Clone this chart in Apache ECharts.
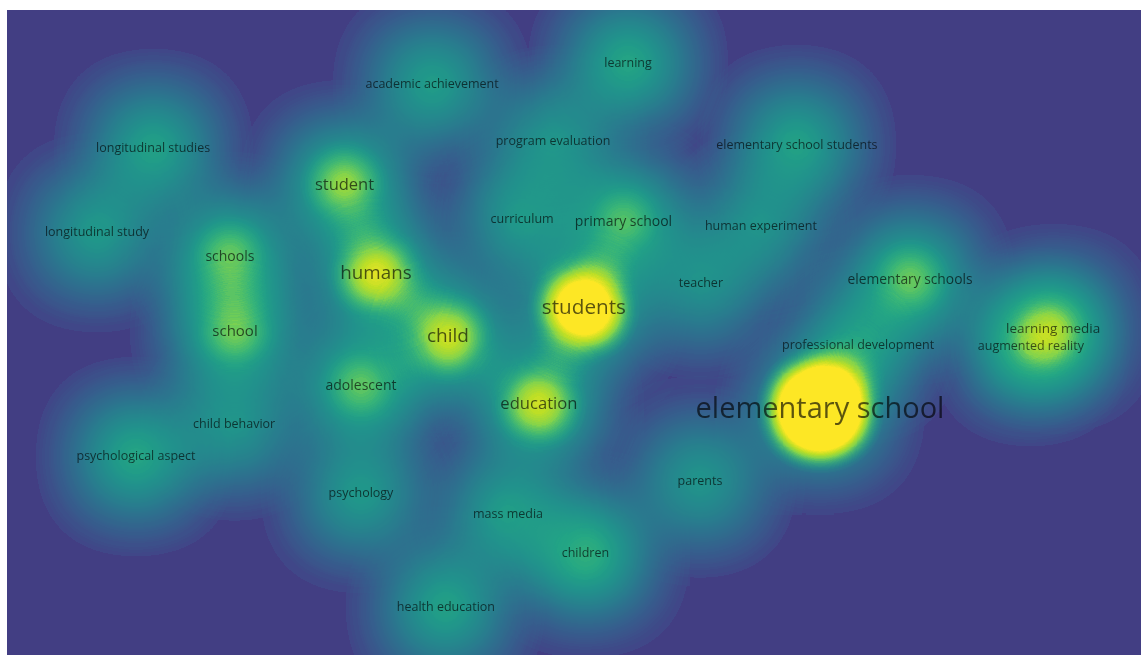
<!DOCTYPE html>
<html lang="en">
<head>
    <meta charset="UTF-8">
    <title>keyword density</title>
    <script type="text/javascript" src="https://cdn.jsdelivr.net/npm/echarts@6/dist/echarts.min.js"></script>
    <style>
        html, body {margin: 0; padding: 0; background: #fff;}
    </style>
</head>
<body>
<div id="container" style="width: 1141px; height: 655px"></div>
<script type="text/javascript">

    // keywords, map coordinates (x right, y up), density weight, label size
    var keywords = ['elementary school', 'students', 'humans', 'child', 'education', 'student',
        'schools', 'school', 'learning media', 'augmented reality', 'primary school', 'elementary schools',
        'professional development', 'adolescent', 'curriculum', 'human experiment', 'teacher',
        'program evaluation', 'elementary school students', 'learning', 'academic achievement',
        'longitudinal studies', 'longitudinal study', 'child behavior', 'psychological aspect',
        'psychology', 'mass media', 'children', 'health education', 'parents'];
    var posX = [0.820, 0.033, -0.660, -0.420, -0.117, -0.765,
        -1.147, -1.130, 1.597, 1.523, 0.165, 1.120,
        0.947, -0.710, -0.173, 0.623, 0.423,
        -0.070, 0.743, 0.180, -0.473,
        -1.403, -1.590, -1.133, -1.460,
        -0.710, -0.220, 0.038, -0.427, 0.420];
    var posY = [-0.258, 0.082, 0.195, -0.015, -0.238, 0.492,
        0.252, 0.002, 0.012, -0.048, 0.368, 0.175,
        -0.042, -0.178, 0.378, 0.355, 0.165,
        0.638, 0.625, 0.898, 0.828,
        0.612, 0.332, -0.308, -0.412,
        -0.538, -0.605, -0.738, -0.915, -0.495];
    var weight = [1.00, 0.62, 0.40, 0.38, 0.38, 0.32,
        0.28, 0.29, 0.27, 0.17, 0.26, 0.28,
        0.15, 0.27, 0.14, 0.12, 0.12,
        0.13, 0.16, 0.17, 0.15,
        0.16, 0.14, 0.13, 0.17,
        0.14, 0.15, 0.20, 0.16, 0.13];
    var labelSize = [29, 20.7, 18.8, 19, 16.6, 16.5,
        14, 15, 13.5, 12.5, 14, 13.8,
        12.5, 14, 12.5, 12.5, 12.5,
        12.5, 12.5, 12.5, 12.5,
        12.5, 12.5, 12.5, 12.5,
        12.5, 12.5, 12.5, 12.5, 12.5];

    // map extent
    var extentX = [-1.89, 1.89];
    var extentY = [-1.075, 1.075];

    // viridis colour scale
    var viridis = ['#440154', '#482475', '#414487', '#355f8d', '#2a788e', '#21918c',
        '#22a884', '#44bf70', '#7ad151', '#bddf26', '#fde725'];
    var LOW = 0.18, MID = 0.58, CORE_LOW = 0.55;
    // halo layer: wide kernel, opaque, purple to teal
    var HALO_CAP = 0.2, HALO_TOP = 0.38, GAMMA = 0.57;
    // core layer: narrow kernel, green to yellow, opacity grows with density
    var CORE_FROM = 0.04, CORE_TOP = 0.17, CORE_FADE = 0.08;

    function hexRgb(h) {
        return [parseInt(h.substr(1, 2), 16), parseInt(h.substr(3, 2), 16), parseInt(h.substr(5, 2), 16)];
    }
    function viridisAt(t) {
        var s = t * 10;
        var i = Math.min(9, Math.floor(s));
        var f = s - i;
        var a = hexRgb(viridis[i]), b = hexRgb(viridis[i + 1]);
        return [0, 1, 2].map(function (k) { return Math.round(a[k] + (b[k] - a[k]) * f); });
    }
    function rgba(c, op) {
        return 'rgba(' + c.join(',') + ',' + op + ')';
    }
    var haloLevels = [], coreLevels = [];
    for (var i = 0; i < 256; i++) {
        var a = i / 255;
        var p = Math.min(1, Math.pow(a / HALO_TOP, GAMMA));
        haloLevels.push(rgba(viridisAt(LOW + (MID - LOW) * p), 1));
        if (a < CORE_FROM) {
            coreLevels.push(rgba(viridisAt(CORE_LOW), 0));
        } else {
            var t = Math.min(1, (a - CORE_FROM) / (CORE_TOP - CORE_FROM));
            coreLevels.push(rgba(viridisAt(CORE_LOW + (1 - CORE_LOW) * t), 1));
        }
    }
    var bgColor = rgba(viridisAt(LOW), 1);

    echarts.registerMap('vosmap', {
        type: 'FeatureCollection',
        features: [{
            type: 'Feature',
            properties: {name: 'map'},
            geometry: {
                type: 'Polygon',
                coordinates: [[[extentX[0], extentY[0]], [extentX[1], extentY[0]], [extentX[1], extentY[1]],
                    [extentX[0], extentY[1]], [extentX[0], extentY[0]]]]
            }
        }]
    });

    var haloData = [], coreData = [], labelData = [];
    for (var j = 0; j < keywords.length; j++) {
        haloData.push([posX[j], posY[j], Math.min(weight[j], HALO_CAP)]);
        coreData.push([posX[j], posY[j], weight[j]]);
        labelData.push({
            name: keywords[j],
            value: [posX[j], posY[j]],
            label: {fontSize: labelSize[j]}
        });
    }

    var dom = document.getElementById('container');
    var myChart = echarts.init(dom, null, {renderer: 'canvas'});

    var option = {
        animation: false,
        geo: {
            map: 'vosmap',
            roam: false,
            silent: true,
            aspectScale: 1,
            left: 7,
            top: 10,
            width: 1134,
            height: 645,
            label: {show: false},
            itemStyle: {areaColor: bgColor, borderWidth: 0, borderColor: bgColor},
            emphasis: {disabled: true}
        },
        visualMap: [
            {type: 'continuous', show: false, seriesIndex: 0, min: 0, max: HALO_CAP, inRange: {color: haloLevels}},
            {type: 'continuous', show: false, seriesIndex: 1, min: 0, max: 1, inRange: {color: coreLevels}}
        ],
        series: [
            {
                type: 'heatmap',
                coordinateSystem: 'geo',
                data: haloData,
                pointSize: 35,
                blurSize: 70,
                minOpacity: 1,
                maxOpacity: 1,
                silent: true,
                z: 2
            },
            {
                type: 'heatmap',
                coordinateSystem: 'geo',
                data: coreData,
                pointSize: 28,
                blurSize: 56,
                // opacity = (density - CORE_FROM) / CORE_FADE
                minOpacity: -CORE_FROM / CORE_FADE,
                maxOpacity: (1 - CORE_FROM) / CORE_FADE,
                silent: true,
                z: 3
            },
            {
                type: 'scatter',
                coordinateSystem: 'geo',
                data: labelData,
                symbol: 'circle',
                symbolSize: 1,
                itemStyle: {color: 'rgba(0,0,0,0)'},
                silent: true,
                z: 10,
                label: {
                    show: true,
                    position: 'inside',
                    formatter: '{b}',
                    fontFamily: 'Open Sans',
                    color: 'rgba(0,0,0,0.8)'
                }
            }
        ]
    };

    myChart.setOption(option);
    window.addEventListener('resize', myChart.resize);
</script>
</body>
</html>
